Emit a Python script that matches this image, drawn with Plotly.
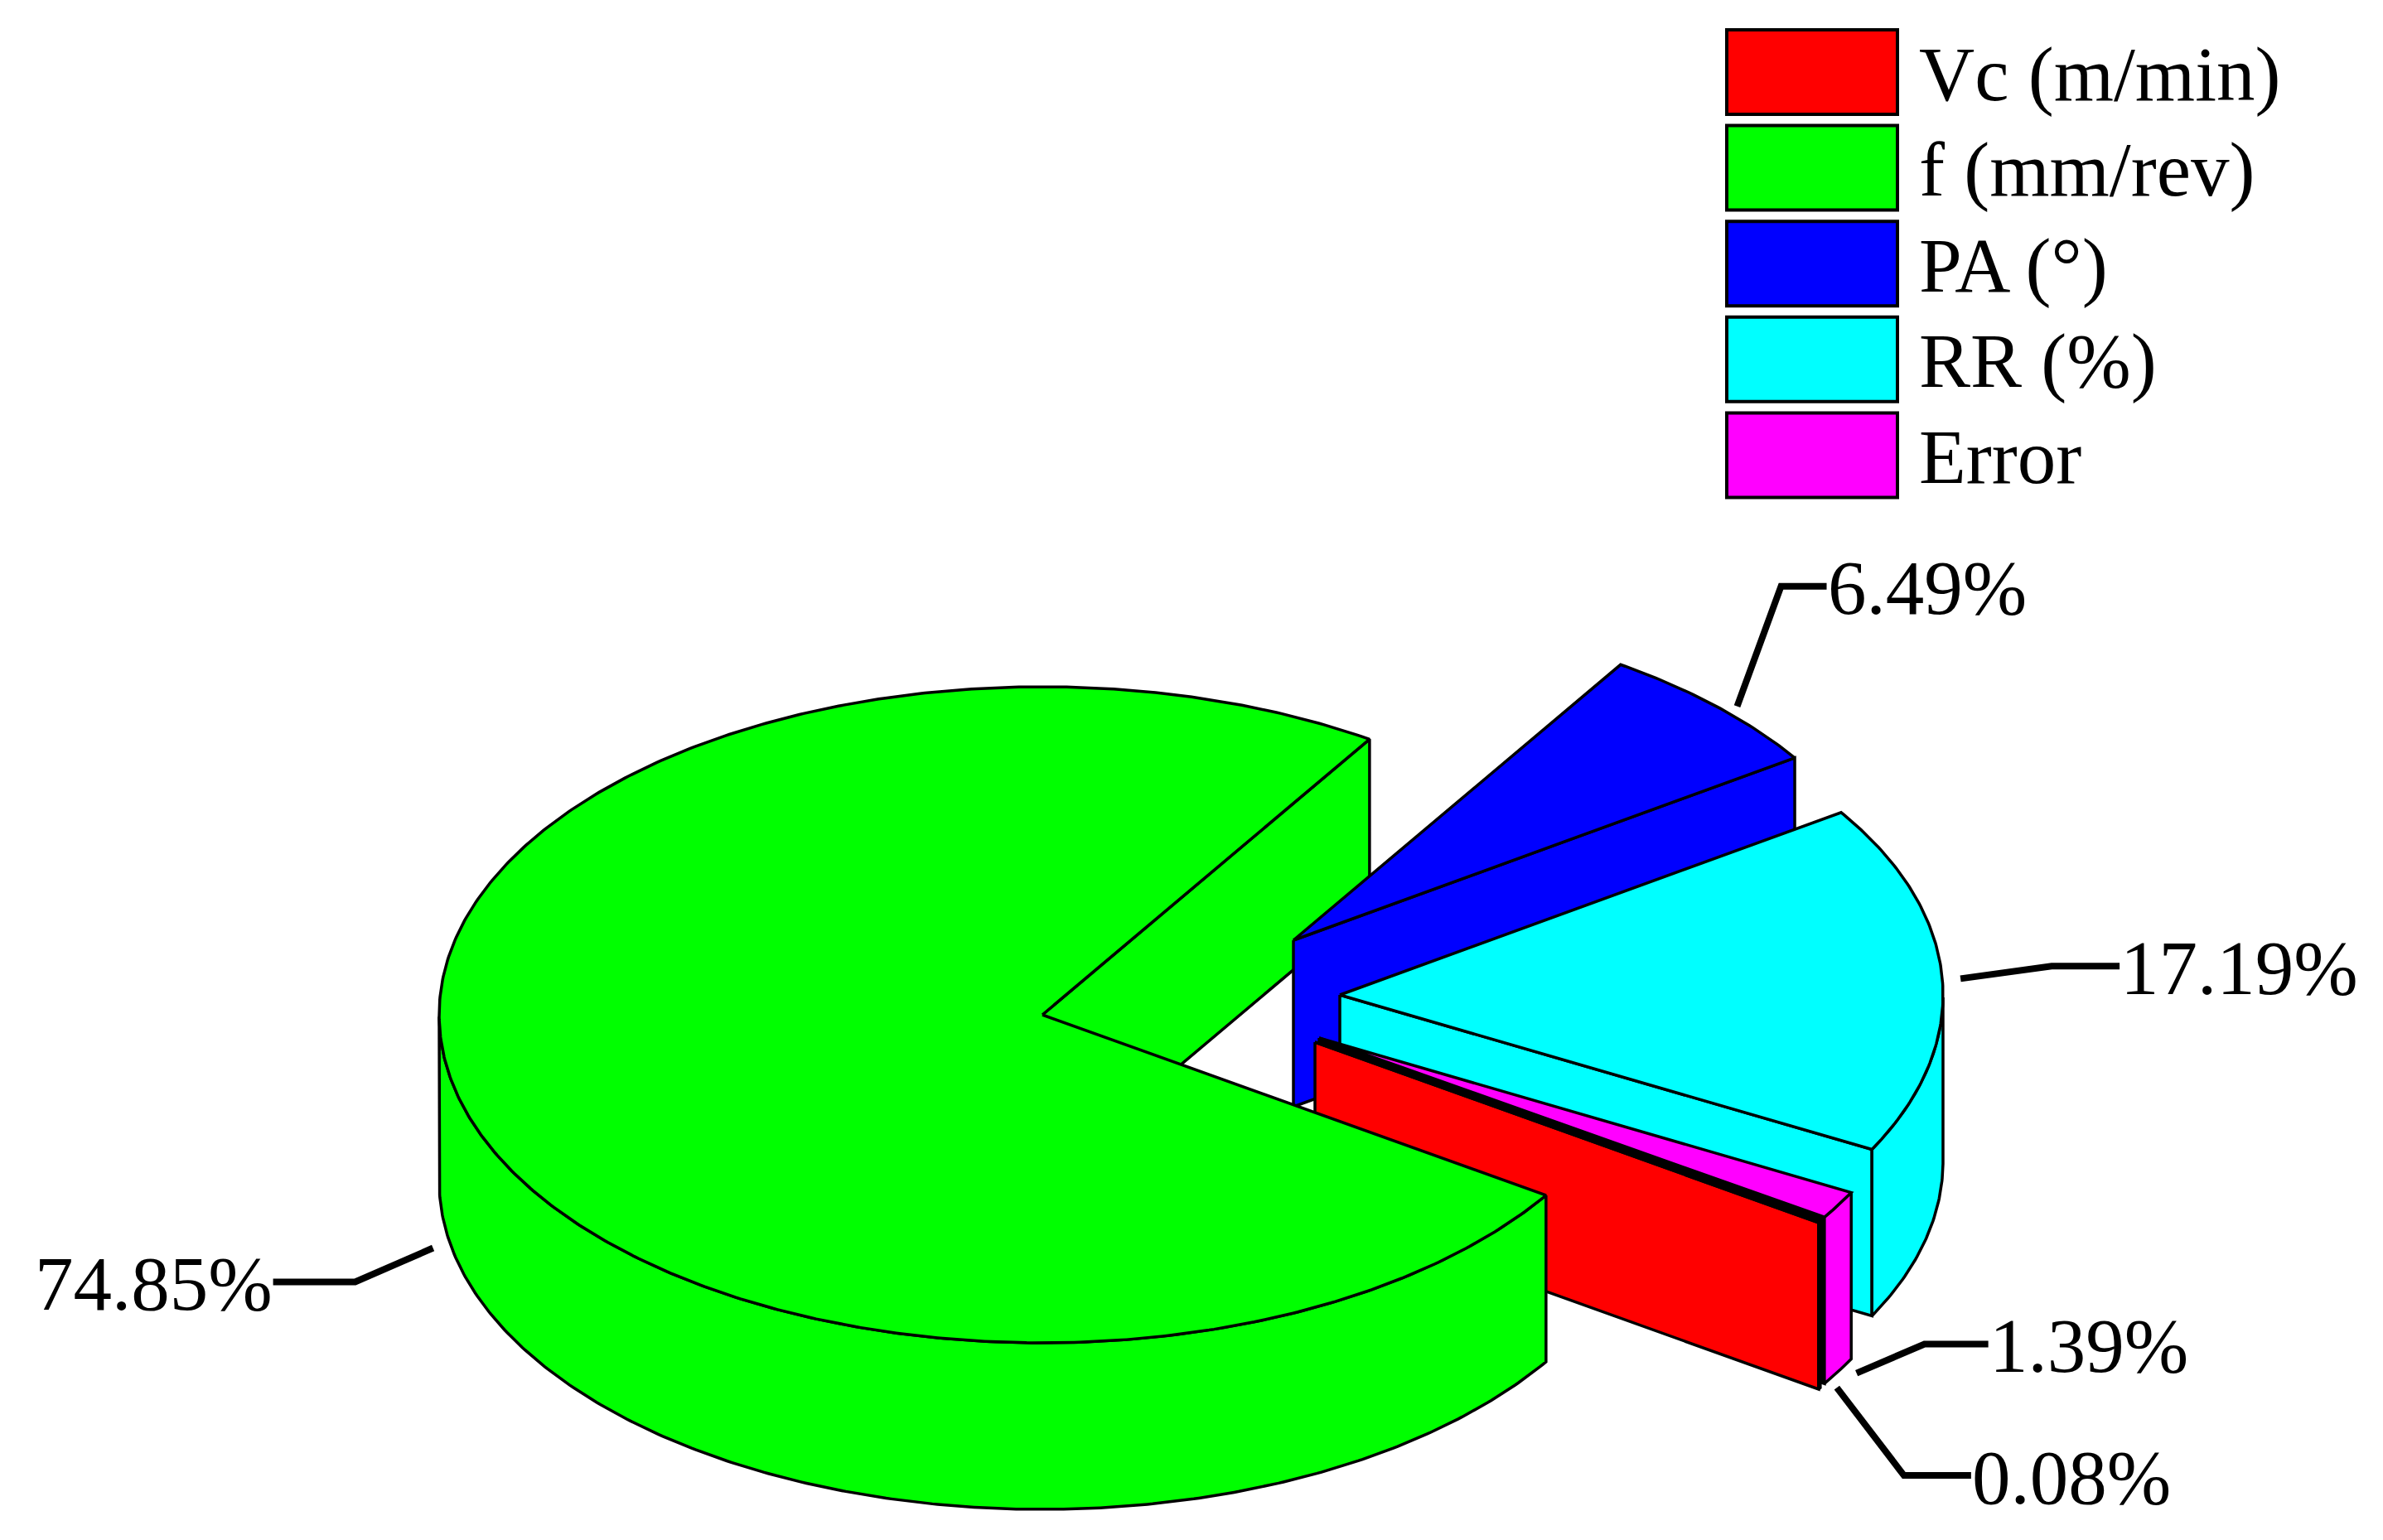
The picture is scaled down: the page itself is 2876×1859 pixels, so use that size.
"""
Exploded 3D pie of factor contributions, drawn as filled scatter polygons.
"""
import numpy as np
import plotly.graph_objects as go

# Data, in clockwise order round the pie
CATEGORIES = ["Vc (m/min)", "f (mm/rev)", "PA (°)", "RR (%)", "Error"]
VALUES = [0.08, 74.85, 6.49, 17.19, 1.39]

COLORS = ["#ff0000", "#00ff00", "#0000ff", "#00ffff", "#ff00ff"]

# Pie geometry in page pixels
START_ANGLE = -33.1
CX, CY = 1258, 1225
RX, RY = 728, 396
DEPTH = 201
EXPLODE_X = [329, 0, 303, 359, 334]
EXPLODE_Y = [33, 0, -90, -24, 28]

# Leader polyline offsets from the middle of each slice's outer edge
LEADER_DX = [[21, 102, 183], [-23, -117, -216], [25, 78, 133], [22, 132, 214], [22, 104, 181]]
LEADER_DY = [[200, 306, 306], [200, 241, 241], [0, -145, -145], [0, -15, -15], [203, 168, 168]]

FONT = "Liberation Serif"
FONT_SIZE = 93
EDGE = 3.5


def _angles():
    """Start and end angle of each slice, going clockwise, in degrees."""
    sweep = np.array(VALUES) * 3.6
    ends = START_ANGLE - np.cumsum(sweep)
    starts = ends + sweep
    return starts, ends


def _arc(a0, a1, ox, oy):
    th = np.radians(np.linspace(a0, a1, max(int(abs(a1 - a0) * 2), 2) + 1))
    return CX + ox + RX * np.cos(th), CY + oy - RY * np.sin(th), th


def _poly(fig, x, y, color):
    fig.add_trace(
        go.Scatter(
            x=np.append(x, x[0]),
            y=np.append(y, y[0]),
            mode="lines",
            fill="toself",
            fillcolor=color,
            line=dict(color="black", width=EDGE),
            hoverinfo="skip",
        )
    )


def _radial_wall(fig, a, ox, oy, color):
    xe, ye, _ = _arc(a, a, ox, oy)
    x0, y0 = CX + ox, CY + oy
    _poly(
        fig,
        np.array([x0, xe[0], xe[0], x0]),
        np.array([y0, ye[0], ye[0] + DEPTH, y0 + DEPTH]),
        color,
    )


def _outer_wall(fig, a0, a1, ox, oy, color):
    x, y, th = _arc(a0, a1, ox, oy)
    front = np.sin(th) <= 1e-9
    if front.sum() < 2:
        return
    x, y = x[front], y[front]
    _poly(fig, np.r_[x, x[::-1]], np.r_[y, y[::-1] + DEPTH], color)


def _top(fig, a0, a1, ox, oy, color):
    x, y, _ = _arc(a0, a1, ox, oy)
    _poly(fig, np.r_[CX + ox, x], np.r_[CY + oy, y], color)


starts, ends = _angles()
fig = go.Figure()

# back to front: green cut face, exploded slices, then the green body over them
_radial_wall(fig, ends[1], 0, 0, COLORS[1])
for i in [2, 3, 4, 0]:
    wall = "black" if CATEGORIES[i] == "Error" else COLORS[i]
    _radial_wall(fig, ends[i], EXPLODE_X[i], EXPLODE_Y[i], wall)
    _outer_wall(fig, starts[i], ends[i], EXPLODE_X[i], EXPLODE_Y[i], COLORS[i])
    _top(fig, starts[i], ends[i], EXPLODE_X[i], EXPLODE_Y[i], COLORS[i])
_outer_wall(fig, starts[1], ends[1], 0, 0, COLORS[1])
_top(fig, starts[1], ends[1], 0, 0, COLORS[1])

annotations = []
for i, val in enumerate(VALUES):
    mid = np.radians((starts[i] + ends[i]) / 2)
    ax = CX + EXPLODE_X[i] + RX * np.cos(mid)
    ay = CY + EXPLODE_Y[i] - RY * np.sin(mid)
    lx = ax + np.array(LEADER_DX[i])
    ly = ay + np.array(LEADER_DY[i])
    fig.add_trace(
        go.Scatter(
            x=lx, y=ly, mode="lines",
            line=dict(color="black", width=8),
            hoverinfo="skip",
        )
    )
    left_side = LEADER_DX[i][-1] < 0
    annotations.append(
        dict(
            x=lx[-1], y=ly[-1] + 2, xref="x", yref="y",
            text=f"{val:.2f}%",
            showarrow=False,
            xanchor="right" if left_side else "left",
            yanchor="middle",
            borderpad=0,
            font=dict(family=FONT, size=FONT_SIZE, color="black"),
        )
    )

# hand-drawn legend, the swatches are far larger than plotly's own
shapes = []
for i, name in enumerate(CATEGORIES):
    top = 36 + i * 115.6
    shapes.append(
        dict(
            type="rect", xref="x", yref="y",
            x0=2084, x1=2290, y0=top, y1=top + 102,
            fillcolor=COLORS[i],
            line=dict(color="black", width=4),
        )
    )
    annotations.append(
        dict(
            x=2315, y=top + 53, xref="x", yref="y",
            text=name,
            showarrow=False,
            xanchor="left",
            yanchor="middle",
            borderpad=0,
            font=dict(family=FONT, size=FONT_SIZE, color="black"),
        )
    )

fig.update_layout(
    width=2876,
    height=1859,
    margin=dict(l=0, r=0, t=0, b=0),
    paper_bgcolor="white",
    plot_bgcolor="white",
    showlegend=False,
    xaxis=dict(range=[0, 2876], visible=False),
    yaxis=dict(range=[1859, 0], visible=False),
    shapes=shapes,
    annotations=annotations,
)

fig.write_html(
    "out.html",
    config=dict(displayModeBar=False),
    post_script="document.body.style.margin='0';",
)
